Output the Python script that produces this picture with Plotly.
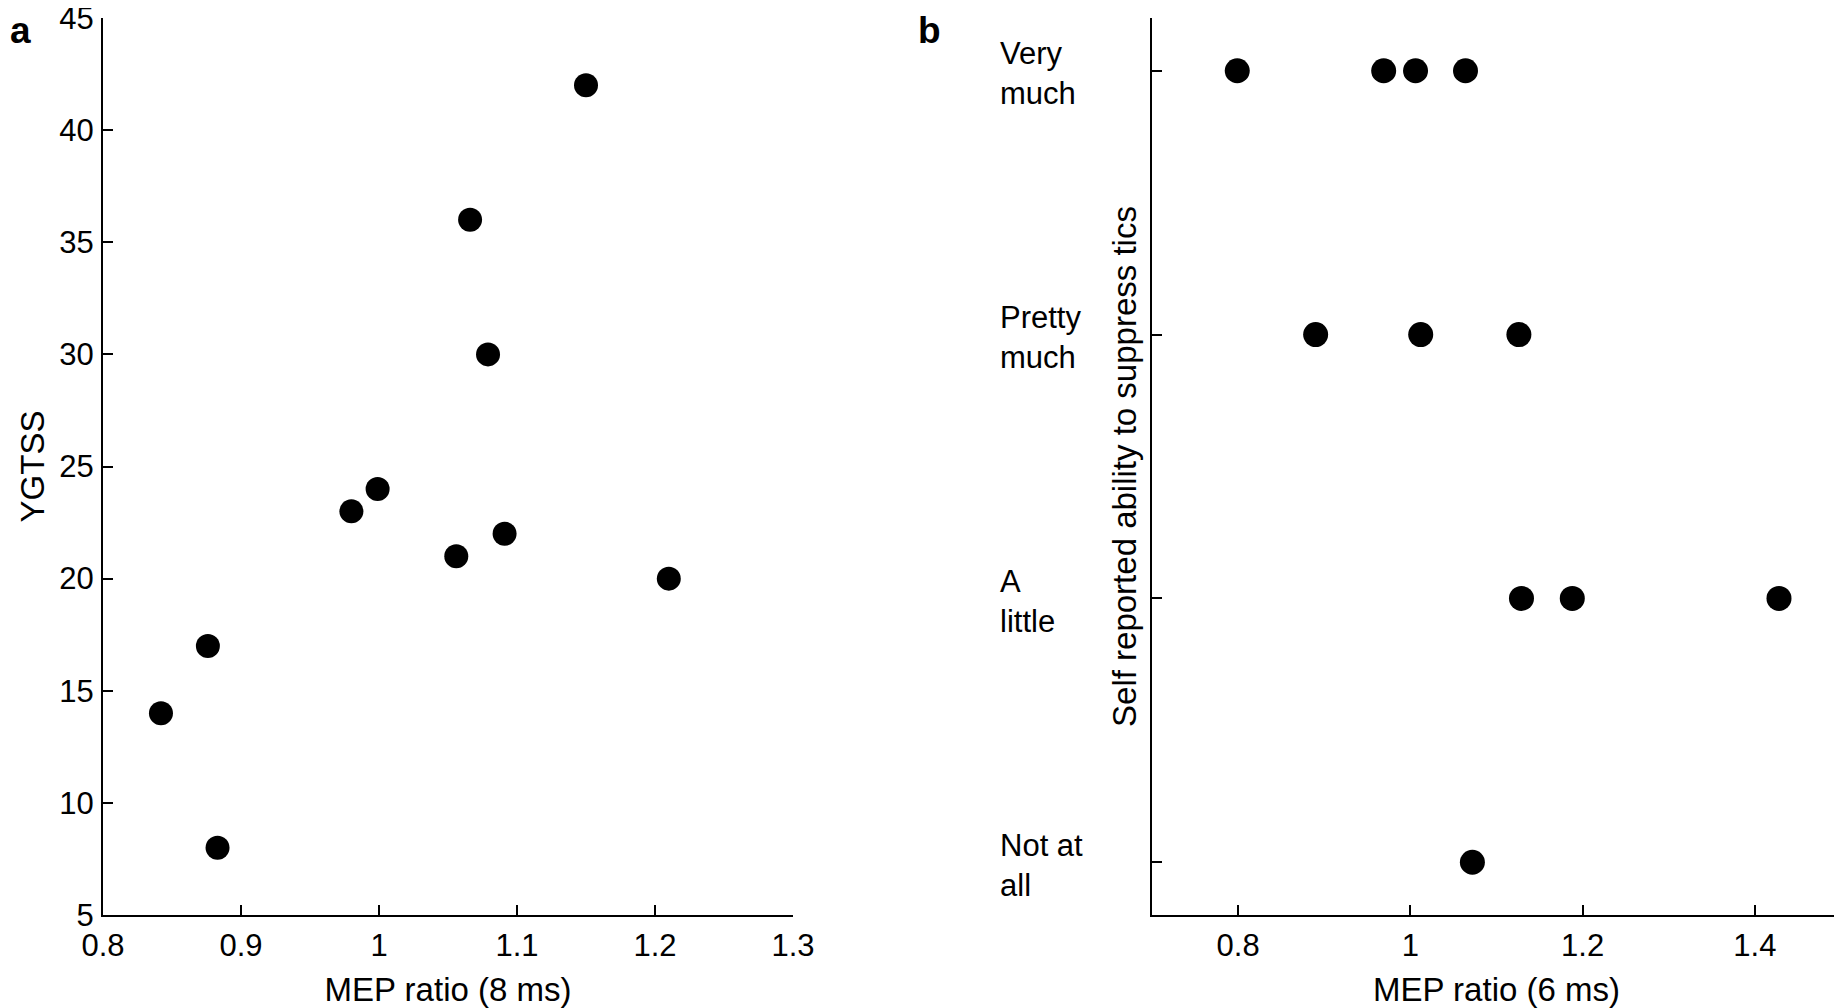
import plotly.graph_objects as go

# Panel a: MEP ratio (8 ms) vs YGTSS
a_mep = [1.150, 1.066, 1.079, 0.999, 0.980, 1.091, 1.056, 1.210, 0.876, 0.842, 0.883]
a_ygtss = [42, 36, 30, 24, 23, 22, 21, 20, 17, 14, 8]

# Panel b: MEP ratio (6 ms) vs self-reported ability (1 = Not at all ... 4 = Very much)
b_mep = [0.799, 0.969, 1.006, 1.064,
         0.890, 1.012, 1.126,
         1.129, 1.188, 1.428,
         1.072]
b_level = [4, 4, 4, 4,
           3, 3, 3,
           2, 2, 2,
           1]
b_categories = ["Not at<br>all", "A<br>little", "Pretty<br>much", "Very<br>much"]
b_cat_values = [1, 2, 3, 4]

a_xticks = [0.8, 0.9, 1.0, 1.1, 1.2, 1.3]
a_xticklabels = ["0.8", "0.9", "1", "1.1", "1.2", "1.3"]
a_yticks = [5, 10, 15, 20, 25, 30, 35, 40, 45]
b_xticks = [0.8, 1.0, 1.2, 1.4]
b_xticklabels = ["0.8", "1", "1.2", "1.4"]

FONT = "Liberation Sans, Arial, Helvetica, sans-serif"
# page body has an 8px margin, so the figure is 8px smaller than the window
W, H = 1834, 1000
TICK_SIZE = 31
TITLE_SIZE = 33

fig = go.Figure()
fig.add_trace(go.Scatter(x=a_mep, y=a_ygtss, mode="markers",
                         marker=dict(color="black", size=24, line=dict(width=0)),
                         xaxis="x", yaxis="y", showlegend=False))
fig.add_trace(go.Scatter(x=b_mep, y=b_level, mode="markers",
                         marker=dict(color="black", size=25, line=dict(width=0)),
                         xaxis="x2", yaxis="y2", showlegend=False))

ydom = [93 / H, 990 / H]
common = dict(showgrid=False, zeroline=False, showline=True, linecolor="black",
              linewidth=2, ticks="inside", ticklen=10, tickwidth=2, tickcolor="black",
              automargin=False, ticklabeloverflow="allow",
              tickfont=dict(family=FONT, size=TICK_SIZE, color="black"))

fig.update_layout(
    width=W, height=H,
    margin=dict(l=0, r=0, t=0, b=0),
    plot_bgcolor="white", paper_bgcolor="white",
    font=dict(family=FONT, color="black"),
    xaxis=dict(domain=[95 / W, 785 / W], range=[0.8, 1.3], anchor="y",
               tickvals=a_xticks, ticktext=a_xticklabels, ticklabelstandoff=2,
               title=dict(text="MEP ratio (8 ms)", font=dict(family=FONT, size=TITLE_SIZE), standoff=32),
               **common),
    yaxis=dict(domain=ydom, range=[5, 45], anchor="x",
               tickvals=a_yticks, ticklabelstandoff=1,
               title=dict(text="YGTSS", font=dict(family=FONT, size=TITLE_SIZE), standoff=5),
               **common),
    xaxis2=dict(domain=[1144 / W, 1833 / W], range=[0.7, 1.5], anchor="y2",
                tickvals=b_xticks, ticktext=b_xticklabels, ticklabelstandoff=2,
                title=dict(text="MEP ratio (6 ms)", font=dict(family=FONT, size=TITLE_SIZE), standoff=32),
                **common),
    yaxis2=dict(domain=ydom, range=[0.8, 4.2], anchor="x2",
                tickvals=b_cat_values, showticklabels=False,
                title=dict(text="Self reported ability to suppress tics",
                           font=dict(family=FONT, size=TITLE_SIZE), standoff=3),
                **common),
)

for val, lab in zip(b_cat_values, b_categories):
    fig.add_annotation(x=990 / W, xref="paper", y=val, yref="y2", text=lab,
                       xanchor="left", yanchor="middle", align="left", showarrow=False,
                       yshift=-3, font=dict(family=FONT, size=TICK_SIZE, color="black"))

fig.add_annotation(x=0, xref="paper", y=1, yref="paper", text="<b>a</b>",
                   xanchor="left", yanchor="top", showarrow=False,
                   font=dict(family=FONT, size=37, color="black"))
fig.add_annotation(x=908 / W, xref="paper", y=1, yref="paper", text="<b>b</b>",
                   xanchor="left", yanchor="top", showarrow=False,
                   font=dict(family=FONT, size=37, color="black"))

fig.write_html("out.html")
